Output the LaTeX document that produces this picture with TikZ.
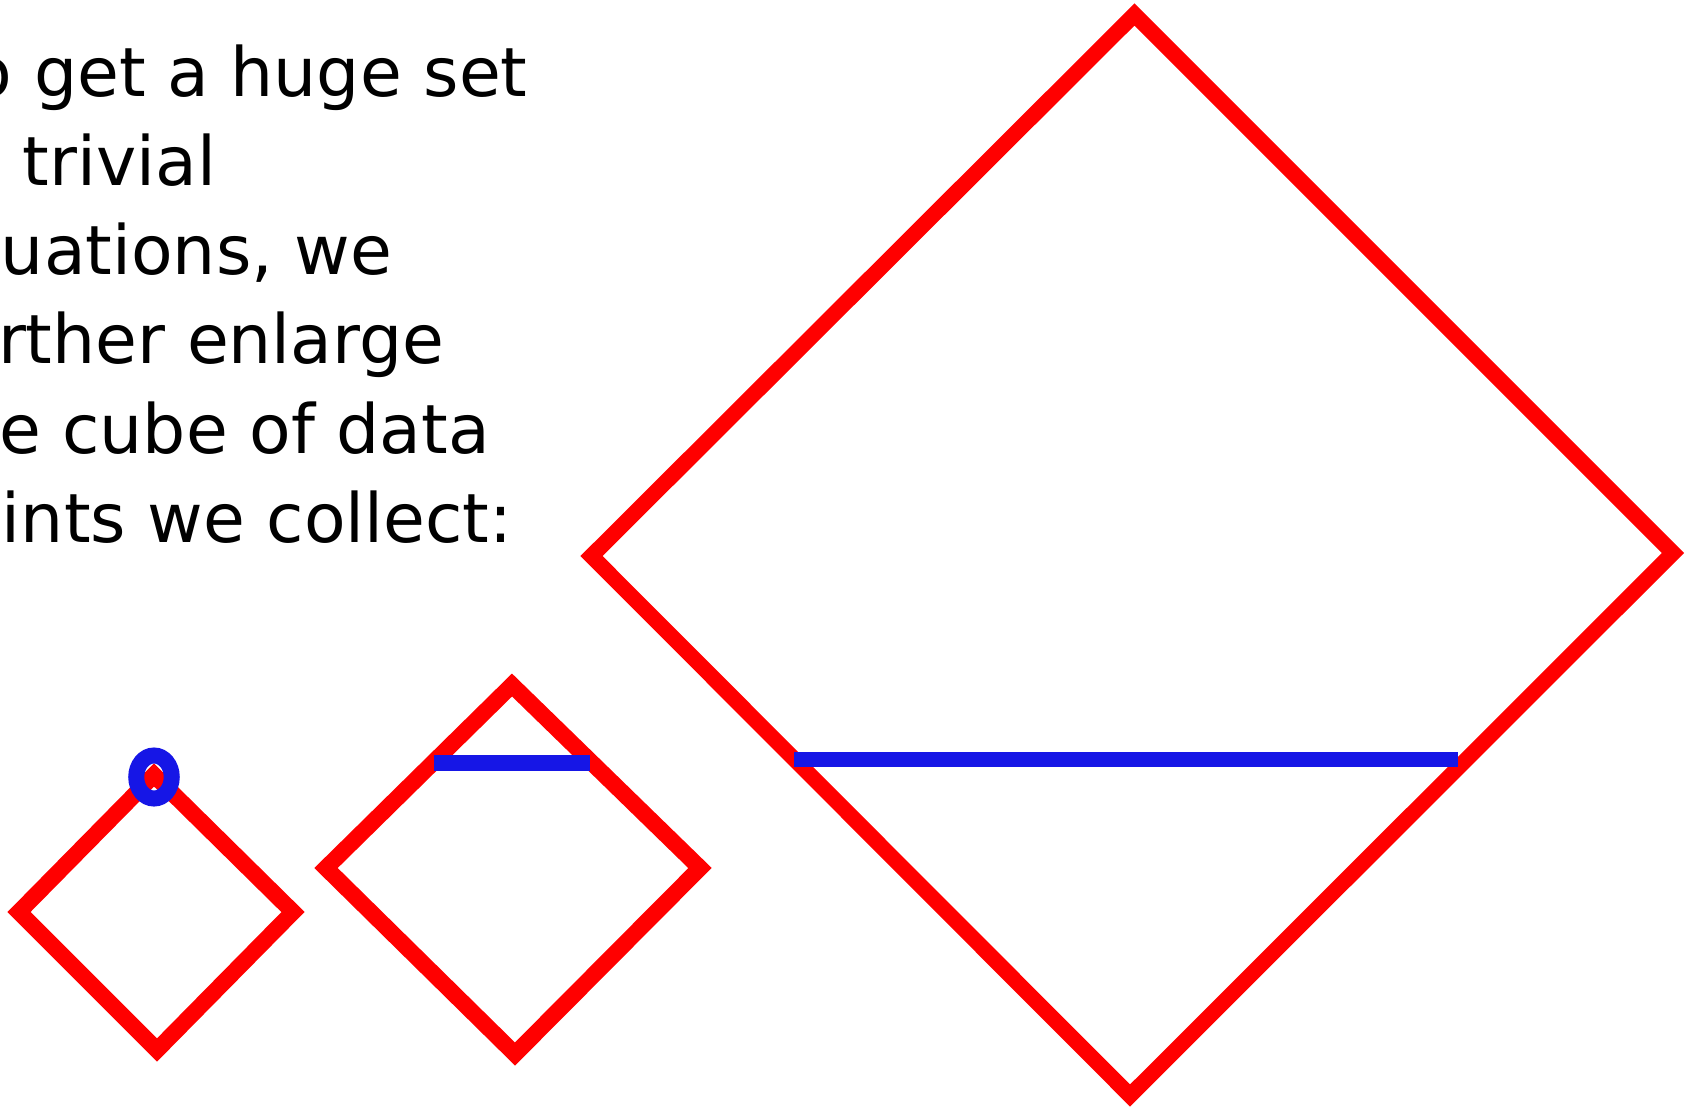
\documentclass[tikz,border=0pt]{standalone}
\usepackage{fontspec}
\setmainfont{DejaVu Sans}
\definecolor{cubered}{RGB}{255,0,0}
\definecolor{cubeblue}{RGB}{22,22,230}
\begin{document}
\begin{tikzpicture}[x=0.5pt,y=-0.5pt,
  txt/.style={anchor=base west,inner sep=0pt,outer sep=0pt,font=\fontsize{34}{44}\selectfont},
  cubeline/.style={draw=cubered,line width=7.8pt,miter limit=10},
  sliceline/.style={draw=cubeblue,line width=7.5pt,line cap=butt},
  pointmark/.style={draw=cubeblue,line width=8pt}]
\useasboundingbox (0,0) rectangle (1687,1107);

% explanatory text
\node[txt] (l1) at (-29,97)  {o get a huge set};
\node[txt] (l2) at (23,186)  {trivial};
\node[txt] (l3) at (1,275)   {uations, we};
\node[txt] (l4) at (-2,364)  {rther enlarge};
\node[txt] (l5) at (-1,453)  {e cube of data};
\node[txt] (l6) at (2,542)   {ints we collect:};

% small cube with a single data point
\coordinate (sT) at (154,775);
\coordinate (sL) at (19,912);
\coordinate (sR) at (293,912);
\coordinate (sB) at (157,1050);
\draw[cubeline,line width=8.2pt] (sT) -- (sR) -- (sB) -- (sL) -- cycle;
\draw[pointmark] (154,777) ellipse [x radius=17.75, y radius=21.5];

% medium cube with a short slice
\coordinate (mT) at (512,685);
\coordinate (mL) at (326,868);
\coordinate (mR) at (700,868);
\coordinate (mB) at (515,1054);
\draw[cubeline,line width=8.2pt] (mT) -- (mR) -- (mB) -- (mL) -- cycle;
\coordinate (ma) at (434,763);
\coordinate (mb) at (590,763);
\draw[sliceline,line width=8pt] (ma) -- (mb);

% large cube with a long slice
\coordinate (bT) at (1134.5,14.5);
\coordinate (bL) at (591.5,556);
\coordinate (bR) at (1673,553);
\coordinate (bB) at (1130,1095.5);
\draw[cubeline] (bT) -- (bR) -- (bB) -- (bL) -- cycle;
\coordinate (ba) at (794,759);
\coordinate (bb) at (1458,759);
\draw[sliceline] (ba) -- (bb);
\end{tikzpicture}
\end{document}
